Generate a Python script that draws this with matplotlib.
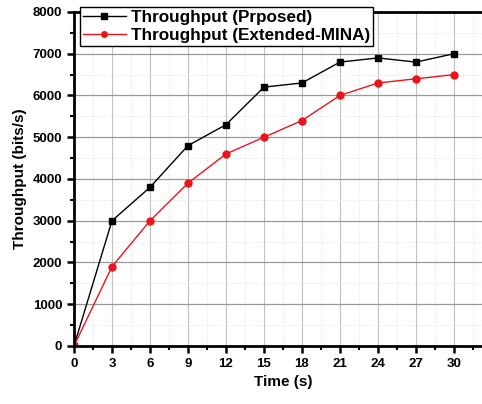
import numpy as np
import matplotlib.pyplot as plt
from matplotlib.ticker import MultipleLocator, FixedLocator

'''throughput vs time for the two schemes'''

time_s = [0, 3, 6, 9, 12, 15, 18, 21, 24, 27, 30]
thr_proposed = [0, 3000, 3800, 4800, 5300, 6200, 6300, 6800, 6900, 6800, 7000]
thr_mina = [0, 1900, 3000, 3900, 4600, 5000, 5400, 6000, 6300, 6400, 6500]
x_ticks = [0, 3, 6, 9, 12, 15, 18, 21, 24, 27, 30]

plt.rcParams['font.family'] = ['Liberation Sans', 'DejaVu Sans']
plt.rcParams['font.weight'] = 'bold'

fig = plt.figure(figsize=(4.82, 4.04), dpi=100)
ax = fig.add_axes([0.1535, 0.1436, 0.867, 0.8267])

ax.plot(time_s, thr_proposed, color='black', marker='s', markersize=5,
        linewidth=1.0, label='Throughput (Prposed)')
ax.plot(time_s, thr_mina, color='#e8161b', marker='o', markersize=5,
        linewidth=1.0, label='Throughput (Extended-MINA)')

ax.set_xlim(0, 33)
ax.set_ylim(0, 8000)
ax.xaxis.set_major_locator(FixedLocator(x_ticks))
ax.xaxis.set_minor_locator(MultipleLocator(1.5))
ax.yaxis.set_major_locator(MultipleLocator(1000))
ax.yaxis.set_minor_locator(MultipleLocator(500))

ax.grid(True, which='major', axis='y', color='#999999', linewidth=0.9)
ax.grid(True, which='major', axis='x', color='#c0c0c0', linewidth=0.8)
ax.grid(True, which='minor', color='#e0e0e0', linewidth=0.7, linestyle=':')
ax.set_axisbelow(True)

for s in ['left', 'bottom', 'top']:
    ax.spines[s].set_linewidth(2.0)
ax.spines['right'].set_visible(False)
ax.tick_params(which='major', direction='out', length=5, width=1.8, labelsize=9.5)
ax.tick_params(which='minor', direction='out', length=3, width=1.5)

ax.set_xlabel('Time (s)', fontsize=11, fontweight='bold')
ax.set_ylabel('Throughput (bits/s)', fontsize=11, fontweight='bold')

leg = ax.legend(loc='lower left', bbox_to_anchor=(0.165, 0.886),
                bbox_transform=fig.transFigure, fontsize=12.3, frameon=True,
                fancybox=False, edgecolor='black', borderpad=0.2,
                labelspacing=0.15, handlelength=2.5, handletextpad=0.3,
                markerscale=0.8, borderaxespad=0, framealpha=1)
leg.get_frame().set_linewidth(1.0)
leg.set_clip_on(False)

fig.savefig('out.png', dpi=100)
